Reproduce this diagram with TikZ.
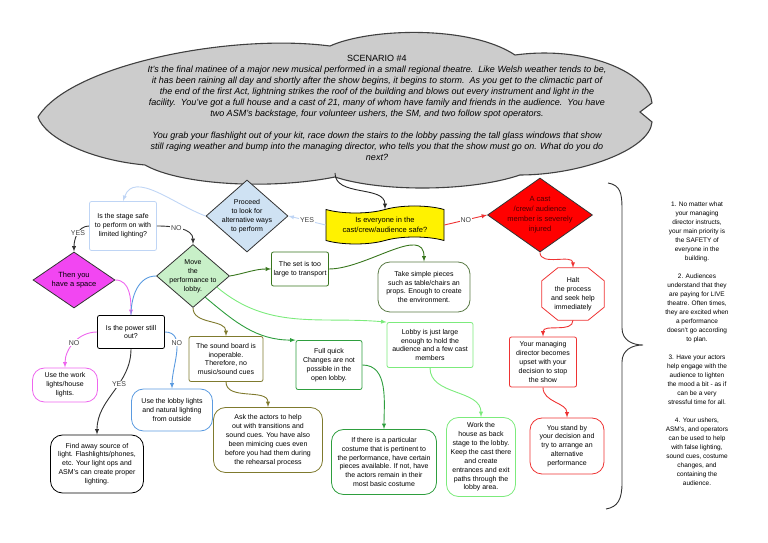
\documentclass[tikz,border=0pt]{standalone}
\usepackage{fontspec}
\setmainfont{Liberation Sans}
\usetikzlibrary{shapes.geometric,shapes.symbols}

\definecolor{cloudgray}{HTML}{CCCCCC}
\definecolor{stageblue}{HTML}{BFD5F5}
\definecolor{proceedfill}{HTML}{CFE2F3}
\definecolor{spacefill}{HTML}{F246F2}
\definecolor{movefill}{HTML}{C8F0C8}
\definecolor{setgreen}{HTML}{38761D}
\definecolor{takegreen}{HTML}{5A7A45}
\definecolor{lightgreen}{HTML}{7CEB7C}
\definecolor{fullgreen}{HTML}{2E9E3E}
\definecolor{olivegreen}{HTML}{7F7A2E}
\definecolor{redline}{HTML}{EE3333}
\definecolor{injuredtext}{HTML}{4A0000}
\definecolor{magline}{HTML}{EE66EE}
\definecolor{lobbyblue}{HTML}{5B9BE0}

\tikzset{
  every node/.style={font=\fontsize{7}{8.9}\selectfont, align=center},
  box/.style={draw, rectangle, rounded corners=2pt, line width=0.8pt, fill=white, inner sep=1pt},
  pill/.style={box, rounded corners=12pt},
  dia/.style={draw=black!80, diamond, line width=0.8pt},
  link/.style={line width=0.9pt, -latex},
  lbl/.style={fill=white, inner sep=1pt, text=black!75, font=\fontsize{7}{8}\selectfont},
}

\begin{document}
\begin{tikzpicture}[x=1pt,y=1pt]
\useasboundingbox (0,0) rectangle (768,543);

% the scenario cloud
\draw[fill=cloudgray, draw=black!75, line width=1.1pt]
  (38,426) .. controls (70,478) and (230,510) .. (330,497)
  .. controls (370,515) and (470,518) .. (515,488)
  .. controls (590,498) and (650,468) .. (652,440)
  -- (640,431) -- (652,421)
  .. controls (650,393) and (580,368) .. (520,368)
  .. controls (470,351) and (380,351) .. (335,366)
  .. controls (270,353) and (180,358) .. (145,378)
  .. controls (90,383) and (45,405) .. (38,426) -- cycle;
\node[font=\fontsize{9}{11}\selectfont] (scenario) at (377,435.5) {%
SCENARIO \#4\\
\itshape It's the final matinee of a major new musical performed in a small regional theatre.\ \ Like Welsh weather tends to be,\\
\itshape it has been raining all day and shortly after the show begins, it begins to storm.\ \ As you get to the climactic part of\\
\itshape the end of the first Act, lightning strikes the roof of the building and blows out every instrument and light in the\\
\itshape facility.\ \ You've got a full house and a cast of 21, many of whom have family and friends in the audience.\ \ You have\\
\itshape two ASM's backstage, four volunteer ushers, the SM, and two follow spot operators.\\[11pt]
\itshape You grab your flashlight out of your kit, race down the stairs to the lobby passing the tall glass windows that show\\
\itshape still raging weather and bump into the managing director, who tells you that the show must go on. What do you do\\
\itshape next?};
\coordinate (cb) at (335,370);

% decisions
\node[tape, draw, fill=yellow, line width=0.8pt, minimum width=118pt, minimum height=38pt, tape bend height=7pt, font=\fontsize{7.5}{9.5}\selectfont] (safe) at (385,318) {Is everyone in the\\cast/crew/audience safe?};
\node[dia, fill=red, aspect=1.42, inner sep=-4.3pt, minimum width=105pt, minimum height=74pt, text=injuredtext, font=\fontsize{7.5}{10}\selectfont] (injured) at (540,328) {A cast\\/crew/ audience\\member is severely\\injured};
\node[dia, fill=proceedfill, aspect=1.14, inner sep=-3.5pt, minimum width=82pt, minimum height=72pt] (proceed) at (247,327) {Proceed\\to look for\\alternative ways\\to perform};
\node[box, draw=stageblue, minimum width=67pt, minimum height=49pt] (stage) at (123,317) {Is the stage safe\\to perform on with\\limited lighting?};
\node[dia, fill=spacefill, aspect=1.46, inner sep=0pt, minimum width=82pt, minimum height=56pt, font=\fontsize{7.5}{9.5}\selectfont] (space) at (74,263) {Then you\\have a space};
\node[dia, fill=movefill, aspect=1.16, inner sep=-5pt, minimum width=73pt, minimum height=63pt] (move) at (193,267) {Move\\the\\performance to\\lobby.};

% lobby branch
\node[box, draw=setgreen, minimum width=57pt, minimum height=34pt] (set) at (300,274) {The set is too\\large to transport};
\node[pill, draw=takegreen, minimum width=92pt, minimum height=50pt] (take) at (424,256) {Take simple pieces\\such as table/chairs an\\props. Enough to create\\the environment.};
\node[box, draw=lightgreen, minimum width=86pt, minimum height=45pt] (lobby) at (430,198) {Lobby is just large\\enough to hold the\\audience and a few cast\\members};
\node[box, draw=fullgreen, minimum width=66pt, minimum height=49pt] (full) at (329,178) {Full quick\\Changes are not\\possible in the\\open lobby.};
\node[box, draw=olivegreen, minimum width=74pt, minimum height=45pt] (sound) at (226,184) {The sound board is\\inoperable.\\Therefore, no\\music/sound cues};
\node[pill, draw=olivegreen, minimum width=109pt, minimum height=65pt] (ask) at (268,103) {Ask the actors to help\\out with transitions and\\sound cues. You have also\\been mimicing cues even\\before you had them during\\the rehearsal process};
\node[pill, draw=fullgreen, minimum width=105pt, minimum height=65pt] (costume) at (384,81) {If there is a particular\\costume that is pertinent to\\the performance, have certain\\pieces available. If not, have\\the actors remain in their\\most basic costume};
\node[pill, draw=lightgreen, minimum width=69pt, minimum height=79pt] (work) at (481,86) {Work the\\house as back\\stage to the lobby.\\Keep the cast there\\and create\\entrances and exit\\paths through the\\lobby area.};

% injury branch
\node[minimum width=62pt, minimum height=52pt, inner sep=0pt] (halt) at (573,249) {Halt\\the process\\and seek help\\immediately};
\draw[redline, line width=0.8pt]
  ([xshift=16pt]halt.north west) -- ([xshift=-16pt]halt.north east)
  -- ([yshift=-13pt]halt.north east) -- ([yshift=13pt]halt.south east)
  -- ([xshift=-16pt]halt.south east) -- ([xshift=16pt]halt.south west)
  -- ([yshift=13pt]halt.south west) -- ([yshift=-13pt]halt.north west) -- cycle;
\node[box, draw=redline, minimum width=67pt, minimum height=50pt] (director) at (543,181) {Your managing\\director becomes\\upset with your\\decision to stop\\the show};
\node[pill, draw=redline, minimum width=74pt, minimum height=56pt] (stand) at (567,97) {You stand by\\your decision and\\try to arrange an\\alternative\\performance};

% lighting branch
\node[box, draw=black, minimum width=67pt, minimum height=33pt] (power) at (131,211) {Is the power still\\out?};
\node[pill, draw=magline, minimum width=65pt, minimum height=34pt] (worklights) at (65,158) {Use the work\\lights/house\\lights.};
\node[pill, draw=lobbyblue, minimum width=81pt, minimum height=42pt] (lobbylights) at (172,133) {Use the lobby lights\\and natural lighting\\from outside};
\node[pill, draw=black, minimum width=93pt, minimum height=58pt] (find) at (97,79) {Find away source of\\light. Flashlights/phones,\\etc. Your light ops and\\ASM's can create proper\\lighting.};

% notes
\node[font=\fontsize{6.5}{9}\selectfont] (notes) at (697,199) {%
1. No matter what\\your managing\\director instructs,\\your main priority is\\the SAFETY of\\everyone in the\\building.\\[9pt]
2. Audiences\\understand that they\\are paying for LIVE\\theatre. Often times,\\they are excited when\\a performance\\doesn't go according\\to plan.\\[9pt]
3. Have your actors\\help engage with the\\audience to lighten\\the mood a bit - as if\\can be a very\\stressful time for all.\\[9pt]
4. Your ushers,\\ASM's, and operators\\can be used to help\\with false lighting,\\sound cues, costume\\changes, and\\containing the\\audience.};
\draw[line width=0.9pt, black!80] (608,360) .. controls (620,358) and (622,350) .. (622,335) -- (622,215)
  .. controls (622,203) and (632,198) .. (643,198)
  .. controls (632,198) and (622,193) .. (622,181) -- (622,60)
  .. controls (622,44) and (618,36) .. (606,34);

% connectors
\draw[link, black!85] (cb) to[out=-90,in=90] (safe.north);
\draw[link, stageblue] (safe.west) -- node[lbl]{YES} (proceed.east);
\draw[link, redline] (safe.east) -- node[lbl]{NO} (injured.west);
\draw[link, stageblue] (proceed.west) to[out=160,in=70] (stage.north);
\draw[link, black!80] (stage.west) to[out=180,in=90] node[lbl,pos=0.45]{YES} (space.north);
\draw[link, black!80] (stage.east) to[out=0,in=90] node[lbl,pos=0.4]{NO} (move.north);
\draw[link, setgreen] (move.east) to[out=10,in=180] (set.west);
\draw[link, setgreen] (set.east) to[out=0,in=90] (take.north);
\draw[link, lightgreen] (move.-25) to[out=-40,in=175] (lobby.north west);
\draw[link, fullgreen] (move.-60) to[out=-40,in=180] (full.north west);
\draw[link, olivegreen] (move.south) to[out=-90,in=90] (sound.north);
\draw[link, olivegreen] (sound.south) to[out=-90,in=90] (ask.north);
\draw[link, fullgreen] (full.east) to[out=0,in=90] (costume.north);
\draw[link, lightgreen] (lobby.south) to[out=-90,in=90] (work.north);
\draw[link, redline] (injured.south) to[out=-90,in=90] (halt.north);
\draw[link, redline] (halt.south) to[out=-90,in=90] (director.north);
\draw[link, redline] (director.south) to[out=-90,in=90] (stand.north);
\draw[link, magline] (space.east) to[out=0,in=90] (power.north);
\draw[line width=0.9pt, lobbyblue] (move.west) to[out=180,in=90] (power.north);
\draw[link, magline] (power.west) to[out=180,in=90] node[lbl]{NO} (worklights.north);
\draw[link, black!80] (power.south) to[out=-90,in=90] node[lbl,pos=0.4]{YES} (find.north);
\draw[link, lobbyblue] (power.east) to[out=0,in=90] node[lbl,pos=0.35]{NO} (lobbylights.north);
\end{tikzpicture}
\end{document}
